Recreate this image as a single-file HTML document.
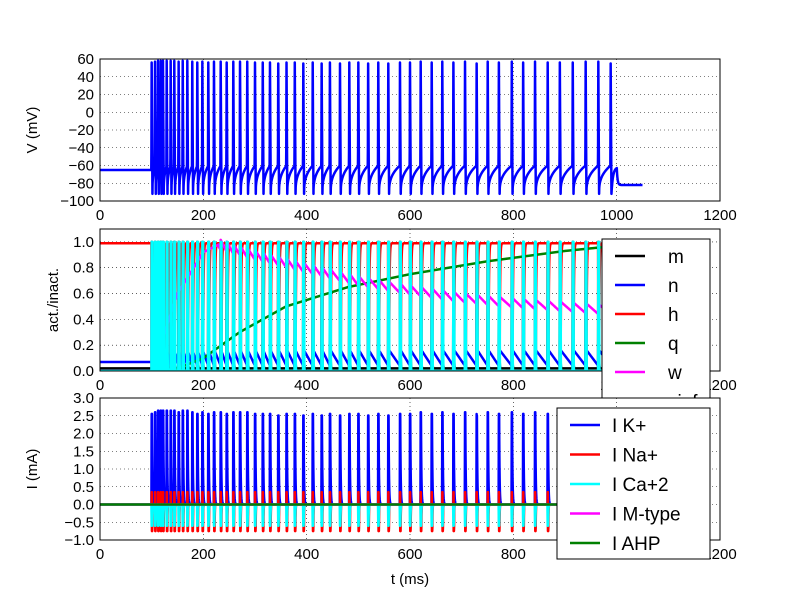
<!DOCTYPE html>
<html><head><meta charset="utf-8"><style>
body{margin:0;background:#fff}
svg text{font-family:"Liberation Sans",sans-serif;font-size:15px}
svg text.lg{font-size:19px}
</style></head><body>
<svg id="c" width="800" height="600" xmlns="http://www.w3.org/2000/svg"></svg>
<script>
// spike times (ms)
const spikeTimes=[100,106.5,112.3,117.5,121.9,129.1,136.8,143.8,152.2,160.1,169,178.6,188.3,198.1,209.6,220.6,233.6,245.2,258,271,285,300,315,329,345,361,377,393.5,411.7,429,445,464.5,482.5,500,519,538.6,558,580.6,600,620.7,642,662.5,684,706.5,729,750.4,772,797,819,842,866.5,890,915,940,964.5,988.4];
const spikePeaks=[56,57,58,58,58,58,58,58,57,58,58,57,56,57,56,57,57,56,57,57,57,56,56,56,55,56,56,55,56,55,56,55,56,56,55,56,55,56,56,57,56,57,56,57,55,57,56,57,56,57,56,56,56,57,57,55];
const xTicks=[0,200,400,600,800,1000,1200];
const vTicks=[-100,-80,-60,-40,-20,0,20,40,60];
const aTicks=[0.0,0.2,0.4,0.6,0.8,1.0];
const iTicks=[-1.0,-0.5,0.0,0.5,1.0,1.5,2.0,2.5,3.0];
const qT=[100,150,200,270,360,480,600,750,900,1000,1200];
const qV=[0,0.02,0.1,0.3,0.5,0.65,0.75,0.85,0.93,0.97,0.99];
const wT=[100,150,200,230,300,400,500,600,700,800,900,1000,1200];
const wV=[0,0.6,0.92,0.98,0.9,0.8,0.7,0.63,0.57,0.53,0.5,0.47,0.3];
const legend2=["m","n","h","q","w","sinf"];
const legend3=["I K+","I Na+","I Ca+2","I M-type","I AHP"];

const S=document.getElementById('c'),NS='http://www.w3.org/2000/svg';
function el(t,a,p){const e=document.createElementNS(NS,t);for(const k in a)e.setAttribute(k,a[k]);(p||S).appendChild(e);return e;}
const X0=100,X1=720;const xs=t=>X0+t*(X1-X0)/1200;
const panels=[{top:59,bot:201,min:-100,max:60},{top:229,bot:371,min:0,max:1.1},{top:398,bot:540,min:-1,max:3}];
function ys(p,v){return p.bot-(v-p.min)/(p.max-p.min)*(p.bot-p.top);}
function interp(T,V,t){if(t<=T[0])return V[0];for(let i=1;i<T.length;i++)if(t<=T[i])return V[i-1]+(V[i]-V[i-1])*(t-T[i-1])/(T[i]-T[i-1]);return V[V.length-1];}
function lastSpike(t){let s=-1;for(let i=0;i<spikeTimes.length;i++)if(spikeTimes[i]<=t+1e-9)s=i;return s;}
let tsSet=[];for(let t=0;t<=1050;t+=0.25)tsSet.push(t);
spikeTimes.forEach(s=>{tsSet.push(s,s-0.01,s+0.5,s+1.5,s+2.5);});
const ts=[...new Set(tsSet.map(v=>Math.round(v*1000)/1000))].sort((a,b)=>a-b);
function path(p,f,color,name,lw){let d='';let first=true;for(const t of ts){const v=f(t);d+=(first?'M':'L')+xs(t).toFixed(2)+','+ys(p,v).toFixed(2);first=false;}
 const e=el('path',{d:d,fill:'none',stroke:color,'stroke-width':lw||2.5,'stroke-linejoin':'round'});
 
 return e;}
function nextSpike(i){return i+1<spikeTimes.length?spikeTimes[i+1]:null;}
function V(t){
 if(t<100-0.6)return -65;
 const i=lastSpike(t);
 const ns=nextSpike(i);
 if(ns!==null&&ns-t<0.6&&ns-t>0){const base=i<0?-65:-62;return base+(spikePeaks[i+1]-base)*(1-(ns-t)/0.6);}
 if(i<0)return -65;
 const dt=t-spikeTimes[i];
 if(dt<0.5)return spikePeaks[i]-(spikePeaks[i])*dt/0.5;
 if(dt<1.5)return 0-92*(dt-0.5);
 if(ns===null){ if(dt<12)return -92+30*(1-Math.exp(-(dt-1.5)/3)); return -82+(-65+82)*Math.exp(-(dt-12)/1.5);}
 const frac=(t-spikeTimes[i]-1.5)/(ns-spikeTimes[i]-1.5);
 return -92+32*Math.pow(Math.min(1,Math.max(0,frac)),0.35);
}
function pulse(t,tau,w){if(t<100-0.5)return 0;const i=lastSpike(t);const ns=nextSpike(i);if(ns!==null&&ns-t<0.5&&ns-t>0)return 1-(ns-t)/0.5;if(i<0)return 0;const dt=t-spikeTimes[i];if(dt<w)return 1;return Math.exp(-(dt-w)/tau);}
function panelBg(p){el('rect',{x:X0,y:p.top,width:X1-X0,height:p.bot-p.top,fill:'#fff'});}
function axes(p,k){
 const g=el('g',{});
 
 
 const ticks=k==0?vTicks:k==1?aTicks:iTicks;
 xTicks.forEach(t=>{el('line',{x1:xs(t),x2:xs(t),y1:p.top,y2:p.bot,stroke:'#000','stroke-width':0.6,'stroke-dasharray':'1,3'},g);});
 ticks.forEach(v=>{el('line',{x1:X0,x2:X1,y1:ys(p,v),y2:ys(p,v),stroke:'#000','stroke-width':0.6,'stroke-dasharray':'1,3'},g);
  const tx=el('text',{x:94,y:ys(p,v)+5,'text-anchor':'end'},g);tx.textContent=k==0?String(v).replace('-','\u2212'):(v.toFixed(1)).replace('-','\u2212');
  
  });
 xTicks.forEach(t=>{const tx=el('text',{x:xs(t),y:p.bot+19,'text-anchor':'middle'},g);tx.textContent=t;
  
  });
}
function frame(p){const r=el('rect',{x:X0,y:p.top,width:X1-X0,height:p.bot-p.top,fill:'none',stroke:'#000','stroke-width':1});
 
 }
panels.forEach((p,k)=>{const c=el('clipPath',{id:'cp'+k});el('rect',{x:X0,y:p.top,width:X1-X0,height:p.bot-p.top},c);});
function legend(x,y,w,h,items,colors,name,lx,tx,y0,dy){const g=el('g',{});
 
 
 el('rect',{x:x,y:y,width:w,height:h,fill:'#fff',stroke:'#000','stroke-width':1},g);
 items.forEach((s,i)=>{const yy=y0+i*dy;el('line',{x1:lx,x2:lx+30,y1:yy,y2:yy,stroke:colors[i],'stroke-width':2.5},g);
  const t=el('text',{x:tx,y:yy+7,'class':'lg'},g);t.textContent=s;
  
  });
}
// panel1
const p1=panels[0];axes(p1,0);
const g1=el('g',{'clip-path':'url(#cp0)'});
g1.appendChild(path(p1,V,'#0000ff','voltage-line'));
frame(p1);
// panel2
const p2=panels[1];axes(p2,1);
const g2=el('g',{'clip-path':'url(#cp1)'});
const fm=t=>t<100?0.02:0.02+0.98*pulse(t,0.4,0.5);
const fn=t=>{if(t<100)return 0.07;const i=lastSpike(t);const ns=nextSpike(i);const dt=t-spikeTimes[i];const span=ns?ns-spikeTimes[i]:30;return 0.17-0.13*Math.min(1,dt/span)+(dt<1?0.3:0);};
const fh=t=>t<99.5?0.99:0.99-0.99*pulse(t,0.8,1.5);
const fq=t=>interp(qT,qV,t);
const fw=t=>{const b=interp(wT,wV,t);if(t<230||t>1000)return b;const i=lastSpike(t);const ns=nextSpike(i);const span=ns?ns-spikeTimes[i]:30;return b+0.04-0.08*Math.min(1,(t-spikeTimes[i])/span);};
const fs=t=>t<99.5?0:pulse(t,0.15,1.6);
[[fm,'#000','m-line'],[fn,'#0000ff','n-line'],[fh,'#ff0000','h-line'],[fq,'#008000','q-line'],[fw,'#ff00ff','w-line'],[fs,'#00ffff','sinf-line']].forEach(a=>{g2.appendChild(path(p2,a[0],a[1],a[2]));});
frame(p2);
legend(602,239,108,185,legend2,['#000','#0000ff','#ff0000','#008000','#ff00ff','#00ffff'],'legend-activation',615,668,256,29);
// panel3
const p3=panels[2];panelBg(p3);axes(p3,2);
const g3=el('g',{'clip-path':'url(#cp2)'});
const fk=t=>t<99.5?0:2.6*pulse(t,0.8,0.5)*(spikePeaks[Math.max(0,lastSpike(t))]/57);
const fna=t=>{if(t<100)return 0;const i=lastSpike(t);const dt=t-spikeTimes[i];if(dt<0.5)return 0.35;if(dt<1.2)return -0.75;return -0.75*Math.exp(-(dt-1.2)/0.4);};
const fca=t=>t<99.5?0:-0.6*pulse(t,0.6,0.6);
const fM=t=>0;const fA=t=>0;
[[fk,'#0000ff','ik-line'],[fna,'#ff0000','ina-line'],[fca,'#00ffff','ica-line'],[fM,'#ff00ff','im-line'],[fA,'#008000','iahp-line']].forEach(a=>{g3.appendChild(path(p3,a[0],a[1],a[2]));});
frame(p3);
legend(557,408,153,151,legend3,['#0000ff','#ff0000','#00ffff','#ff00ff','#008000'],'legend-currents',570,612,425,29.5);
function title(x,y,s,rot,name){const t=el('text',{x:x,y:y,'text-anchor':'middle',transform:rot?'rotate(-90 '+x+' '+y+')':''});t.textContent=s;
 
 }
title(37,130,'V (mV)',true,'y-axis-title-voltage');
title(58,300,'act./inact.',true,'y-axis-title-activation');
title(37,469,'I  (mA)',true,'y-axis-title-current');
title(410,584,'t (ms)',false,'x-axis-title');
</script>
</body></html>
